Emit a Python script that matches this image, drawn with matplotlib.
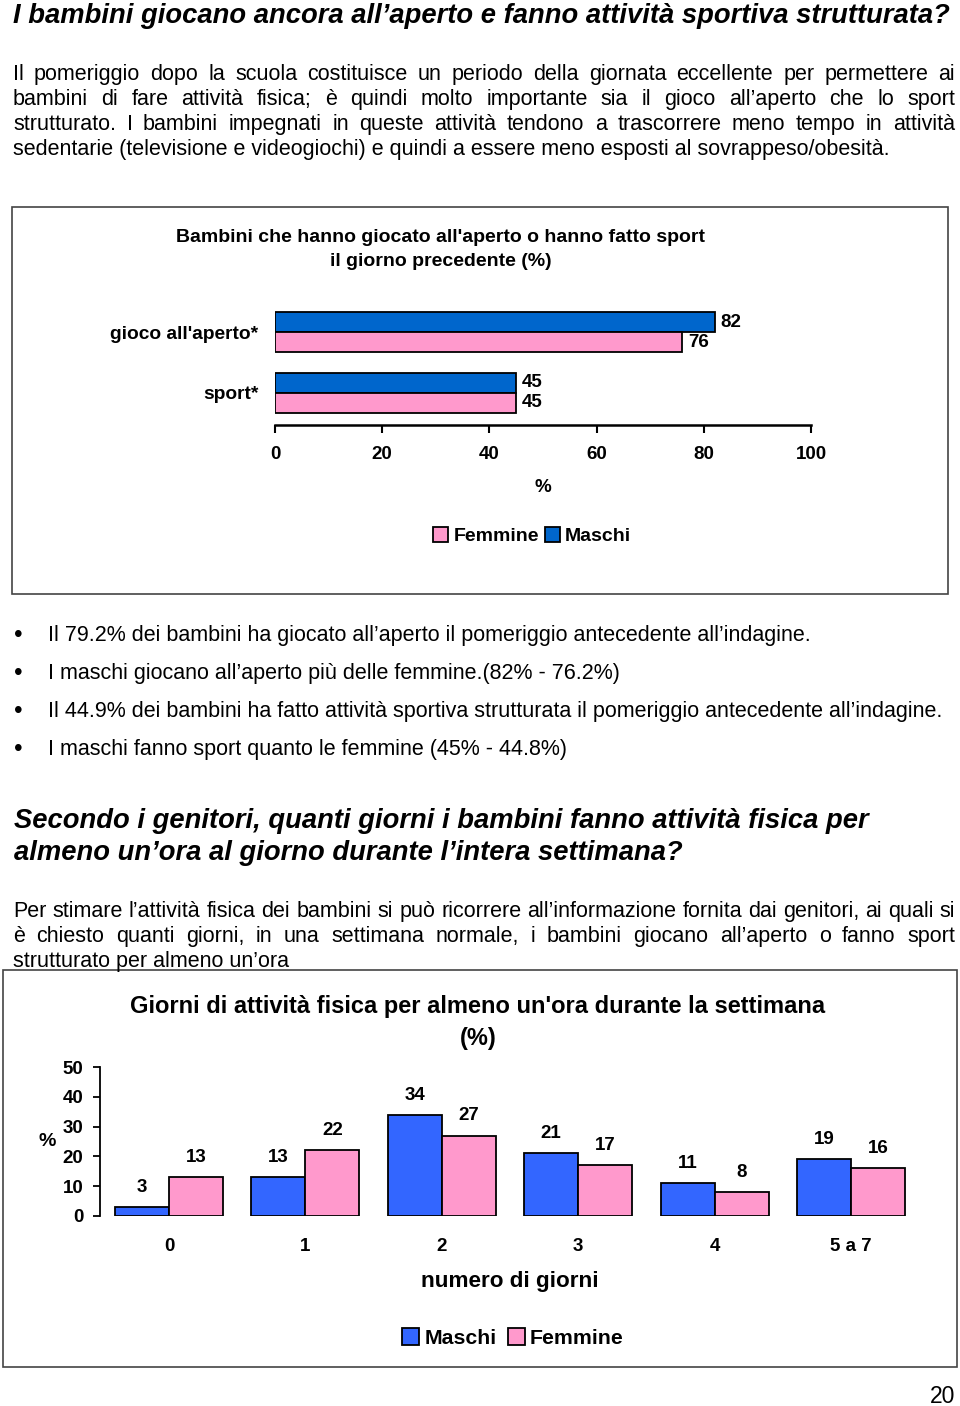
import matplotlib
matplotlib.use("Agg")
import matplotlib.pyplot as plt
import matplotlib.patches as patches
import numpy as np

plt.rcParams["font.family"] = ["Liberation Sans", "DejaVu Sans"]

W, H = 960, 1406

# --- data -------------------------------------------------------------
top_categories = ["gioco all'aperto*", "sport*"]
top_maschi = [82, 45]
top_femmine = [76, 45]
top_xticks = [0, 20, 40, 60, 80, 100]

week_categories = ["0", "1", "2", "3", "4", "5 a 7"]
week_maschi = [3, 13, 34, 21, 11, 19]
week_femmine = [13, 22, 27, 17, 8, 16]
week_yticks = [0, 10, 20, 30, 40, 50]

BLUE_TOP = "#0066CC"
BLUE_BOT = "#3366FF"
PINK = "#FF99CC"

title1 = "I bambini giocano ancora all\u2019aperto e fanno attività sportiva strutturata?"
para1 = [
    "Il pomeriggio dopo la scuola costituisce un periodo della giornata eccellente per permettere ai",
    "bambini di fare attività fisica; è quindi molto importante sia il gioco all\u2019aperto che lo sport",
    "strutturato. I bambini impegnati in queste attività tendono a trascorrere meno tempo in attività",
    "sedentarie (televisione e videogiochi) e quindi a essere meno esposti al sovrappeso/obesità.",
]
bullets = [
    "Il 79.2% dei bambini ha giocato all\u2019aperto il pomeriggio antecedente all\u2019indagine.",
    "I maschi giocano all\u2019aperto più delle femmine.(82% - 76.2%)",
    "Il 44.9% dei bambini ha fatto attività sportiva strutturata il pomeriggio antecedente all\u2019indagine.",
    "I maschi fanno sport quanto le femmine (45% - 44.8%)",
]
title2 = [
    "Secondo i genitori, quanti giorni i bambini fanno attività fisica per",
    "almeno un\u2019ora al giorno durante l\u2019intera settimana?",
]
para2 = [
    "Per stimare l\u2019attività fisica dei bambini si può ricorrere all\u2019informazione fornita dai genitori, ai quali si",
    "è chiesto quanti giorni, in una settimana normale, i bambini giocano all\u2019aperto o fanno sport",
    "strutturato per almeno un\u2019ora",
]

fig = plt.figure(figsize=(W / 100, H / 100), dpi=100)
renderer = fig.canvas.get_renderer()


def fx(x):
    return x / W


def fy(y):
    return 1 - y / H


def text(x, y, s, **kw):
    kw.setdefault("va", "center")
    return fig.text(fx(x), fy(y), s, **kw)


def line(x, y, s, size, **kw):
    # page text: y is the visual middle of the capitals, placed on a baseline
    return fig.text(fx(x), fy(y + 0.36 * size * 100 / 72), s, fontsize=size, va="baseline", **kw)


def justified(x0, x1, y, s, size, **kw):
    words = s.split(" ")
    objs = [line(x0, y, w, size, **kw) for w in words]
    widths = [o.get_window_extent(renderer).width for o in objs]
    gap = (x1 - x0 - sum(widths)) / (len(words) - 1)
    x = x0
    for o, w in zip(objs, widths):
        o.set_x(fx(x))
        x += w + gap


BODY = 15.5

# --- page text --------------------------------------------------------
line(13, 13, title1, 19.7, fontweight="bold", fontstyle="italic")
for i, s in enumerate(para1):
    y = 72 + 25 * i
    if i < len(para1) - 1:
        justified(13, 955, y, s, BODY)
    else:
        line(13, y, s, BODY)

for i, s in enumerate(bullets):
    y = 633 + 38 * i
    line(14, y, "\u2022", BODY + 2)
    line(48, y, s, BODY)

for i, s in enumerate(title2):
    line(14, 818 + 32 * i, s, 19.7, fontweight="bold", fontstyle="italic")

for i, s in enumerate(para2):
    y = 909 + 25 * i
    if i < len(para2) - 1:
        justified(13, 955, y, s, BODY)
    else:
        line(13, y, s, BODY)

line(955, 1395, "20", BODY + 1, ha="right")

# frames around the two charts
fig.patches.append(patches.Rectangle((fx(12), fy(594)), (948 - 12) / W, (594 - 207) / H,
                                     transform=fig.transFigure, fill=False,
                                     edgecolor="#444444", linewidth=1.2))
fig.patches.append(patches.Rectangle((fx(3), fy(1367)), (957 - 3) / W, (1367 - 970) / H,
                                     transform=fig.transFigure, fill=False,
                                     edgecolor="#444444", linewidth=1.2))

# --- chart 1: horizontal bars -----------------------------------------
text(441, 237, "Bambini che hanno giocato all'aperto o hanno fatto sport",
     fontsize=14, fontweight="bold", ha="center")
text(441, 262, "il giorno precedente (%)", fontsize=14, fontweight="bold", ha="center")

ax1 = fig.add_axes([fx(275), fy(425), (811 - 275) / W, (425 - 300) / H])
ypos = np.arange(len(top_categories))[::-1]
h = 0.328
b_m = ax1.barh(ypos + h / 2, top_maschi, height=h, color=BLUE_TOP, edgecolor="black", linewidth=1.3, label="Maschi")
b_f = ax1.barh(ypos - h / 2, top_femmine, height=h, color=PINK, edgecolor="black", linewidth=1.3, label="Femmine")
for bars, vals in ((b_m, top_maschi), (b_f, top_femmine)):
    for bar, v in zip(bars, vals):
        ax1.annotate(f"{v}", (bar.get_width(), bar.get_y() + bar.get_height() / 2),
                     xytext=(4, 0), textcoords="offset points", va="center", ha="left",
                     fontsize=13.5, fontweight="bold")
ax1.set_xlim(0, 100)
ax1.set_ylim(-0.525, 1.525)
ax1.set_xticks(top_xticks)
ax1.set_yticks(ypos)
ax1.set_yticklabels(top_categories)
ax1.tick_params(axis="y", length=0, pad=12, labelsize=13.8)
ax1.tick_params(axis="x", length=6, width=1.5, direction="out", pad=9, labelsize=13.5)
for lab in ax1.get_xticklabels() + ax1.get_yticklabels():
    lab.set_fontweight("bold")
for s in ("left", "top", "right"):
    ax1.spines[s].set_visible(False)
ax1.spines["bottom"].set_linewidth(1.8)
ax1.patch.set_alpha(0)
text(543, 488, "%", fontsize=13.5, fontweight="bold", ha="center")
fig.legend([b_f, b_m], ["Femmine", "Maschi"], loc="center", bbox_to_anchor=(fx(532), fy(536)),
           ncol=2, frameon=False, handlelength=0.8, handleheight=0.8, handletextpad=0.25,
           columnspacing=0.3, prop={"size": 14, "weight": "bold"})

# --- chart 2: vertical grouped bars -----------------------------------
text(478, 1007, "Giorni di attività fisica per almeno un'ora durante la settimana",
     fontsize=17, fontweight="bold", ha="center")
text(478, 1038, "(%)", fontsize=17, fontweight="bold", ha="center")

ax2 = fig.add_axes([fx(100), fy(1216), (920 - 100) / W, (1216 - 1067) / H])
xpos = np.arange(len(week_categories))
w = 0.396
v_m = ax2.bar(xpos - w / 2, week_maschi, width=w, color=BLUE_BOT, edgecolor="black", linewidth=1.3)
v_f = ax2.bar(xpos + w / 2, week_femmine, width=w, color=PINK, edgecolor="black", linewidth=1.3)
for bars, vals in ((v_m, week_maschi), (v_f, week_femmine)):
    for bar, v in zip(bars, vals):
        ax2.annotate(f"{v}", (bar.get_x() + bar.get_width() / 2, bar.get_height()),
                     xytext=(0, 8), textcoords="offset points", ha="center", va="bottom",
                     fontsize=13.5, fontweight="bold")
ax2.set_xlim(-0.506, len(week_categories) - 0.494)
ax2.set_ylim(0, 50)
ax2.set_yticks(week_yticks)
ax2.set_xticks(xpos)
ax2.set_xticklabels(week_categories)
ax2.tick_params(axis="y", length=5, width=1.3, pad=7, labelsize=13.5)
ax2.tick_params(axis="x", length=0, pad=16, labelsize=13.5)
for lab in ax2.get_xticklabels() + ax2.get_yticklabels():
    lab.set_fontweight("bold")
for s in ("bottom", "top", "right"):
    ax2.spines[s].set_visible(False)
ax2.spines["left"].set_linewidth(1.3)
ax2.patch.set_alpha(0)
text(47, 1141, "%", fontsize=14, fontweight="bold", ha="center")
text(510, 1282, "numero di giorni", fontsize=16.2, fontweight="bold", ha="center")
fig.legend([v_m, v_f], ["Maschi", "Femmine"], loc="center", bbox_to_anchor=(fx(513), fy(1338)),
           ncol=2, frameon=False, handlelength=0.8, handleheight=0.8, handletextpad=0.25,
           columnspacing=0.5, prop={"size": 15.3, "weight": "bold"})

fig.savefig("out.png", dpi=100)
